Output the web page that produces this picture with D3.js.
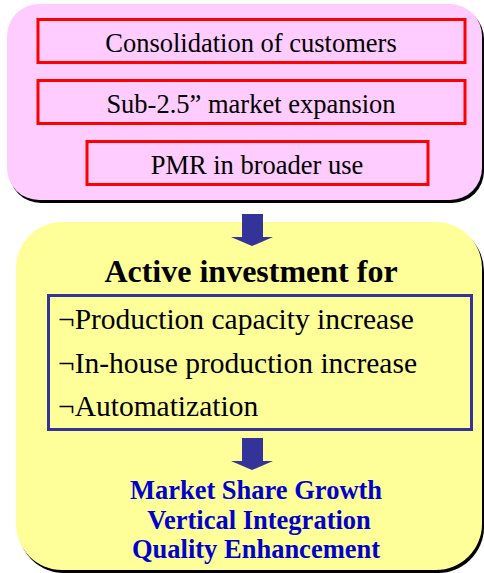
<!DOCTYPE html>
<html>
<head>
<meta charset="utf-8">
<script src="https://cdn.jsdelivr.net/npm/d3@7"></script>
<style>
  body { margin: 0; background: #fff; }
  svg { display: block; }
</style>
</head>
<body>
<div id="chart"></div>
<script>
// diagram content
var drivers = ["Consolidation of customers", "Sub-2.5\u201D market expansion", "PMR in broader use"];
var driverWidths = [427, 427, 341];
var heading = "Active investment for";
var actions = ["\u00ACProduction capacity increase", "\u00ACIn-house production increase", "\u00ACAutomatization"];
var outcomes = ["Market Share Growth", " Vertical Integration", "Quality Enhancement"];

var width = 484, height = 573;
var serif = "'Liberation Serif', 'Times New Roman', Times, serif";

var svg = d3.select("#chart")
    .append("svg")
    .attr("width", width)
    .attr("height", height);

// rounded panel with a black drop shadow
function panel(x, y, w, h, r, fill) {
    svg.append("rect")
        .attr("x", x + 2).attr("y", y + 3)
        .attr("width", w).attr("height", h)
        .attr("rx", r).attr("ry", r)
        .style("fill", "#000");
    svg.append("rect")
        .attr("x", x).attr("y", y)
        .attr("width", w).attr("height", h)
        .attr("rx", r).attr("ry", r)
        .style("fill", fill);
}

function arrow(cx, top) {
    var p = d3.path();
    p.moveTo(cx - 10, top);
    p.lineTo(cx + 11, top);
    p.lineTo(cx + 11, top + 23);
    p.lineTo(cx + 21, top + 23);
    p.lineTo(cx, top + 32);
    p.lineTo(cx - 21, top + 23);
    p.lineTo(cx - 10, top + 23);
    p.closePath();
    svg.append("path").attr("d", p.toString()).style("fill", "#333399");
}

panel(7, 4, 475, 196, 32, "#FFCCFF");
panel(16, 222, 466, 348, 46, "#FFFF99");

// top panel: drivers in red boxes
var yDrivers = d3.scaleBand()
    .domain(drivers)
    .range([18, 186])
    .paddingInner(0.246)
    .paddingOuter(0);

var dg = svg.selectAll(".driver")
    .data(drivers)
    .enter()
    .append("g")
    .attr("class", "driver");

dg.append("rect")
    .attr("x", function(d, i) { return (i == 2 ? 257.5 : 251.5) - driverWidths[i] / 2 })
    .attr("y", function(d) { return yDrivers(d) + 1.5 })
    .attr("width", function(d, i) { return driverWidths[i] })
    .attr("height", yDrivers.bandwidth() - 3)
    .style("fill", "none")
    .style("stroke", "#FF0000")
    .style("stroke-width", 3);

dg.append("text")
    .attr("x", function(d, i) { return i == 2 ? 257 : 251 })
    .attr("y", function(d) { return yDrivers(d) + 33.5 })
    .attr("text-anchor", "middle")
    .style("font-family", serif)
    .style("font-size", "26.5px")
    .style("fill", "#000")
    .text(function(d) { return d });

arrow(252, 214);

svg.append("text")
    .attr("x", 251)
    .attr("y", 282)
    .attr("text-anchor", "middle")
    .style("font-family", serif)
    .style("font-size", "32px")
    .style("font-weight", "bold")
    .text(heading);

// blue box with actions
svg.append("rect")
    .attr("x", 48.5).attr("y", 295.5)
    .attr("width", 423).attr("height", 134)
    .style("fill", "none")
    .style("stroke", "#333399")
    .style("stroke-width", 3);

var yActions = d3.scalePoint()
    .domain(actions)
    .range([329, 416]);

svg.selectAll(".action")
    .data(actions)
    .enter()
    .append("text")
    .attr("class", "action")
    .attr("x", 58)
    .attr("y", function(d) { return yActions(d) })
    .style("font-family", serif)
    .style("font-size", "29.5px")
    .style("fill", "#000")
    .text(function(d) { return d });

arrow(252, 438);

var yOutcomes = d3.scalePoint()
    .domain(outcomes)
    .range([499, 558]);

svg.selectAll(".outcome")
    .data(outcomes)
    .enter()
    .append("text")
    .attr("class", "outcome")
    .attr("x", 256)
    .attr("y", function(d) { return yOutcomes(d) })
    .attr("text-anchor", "middle")
    .attr("xml:space", "preserve")
    .style("white-space", "pre")
    .style("font-family", serif)
    .style("font-size", "26.5px")
    .style("font-weight", "bold")
    .style("fill", "#0000CC")
    .text(function(d) { return d });
</script>
</body>
</html>
